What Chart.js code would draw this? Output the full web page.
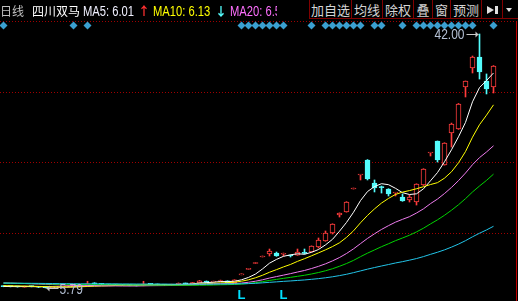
<!DOCTYPE html>
<html>
<head>
<meta charset="utf-8">
<script src="https://cdn.jsdelivr.net/npm/chart.js@4.4.1/dist/chart.umd.min.js"></script>
<style>
    html, body { margin: 0; padding: 0; background: #000; overflow: hidden; }
    #wrap { position: relative; width: 518px; height: 301px; background: #000; }
    #kline { position: absolute; left: 0; top: 0; }
    #info { position: absolute; left: 0; top: 0; width: 277px; height: 20px; overflow: hidden; }
    .t { position: absolute; top: 1px; height: 20px; line-height: 20px; white-space: nowrap; }
    .cn { font-family: "Noto Sans CJK SC", sans-serif; font-size: 12px; }
    .num { font-family: "Liberation Sans", sans-serif; font-size: 14px; transform: scaleX(0.8); transform-origin: 0 0; }
    .btn { position: absolute; top: 0; height: 19px; box-sizing: border-box; border-left: 1px solid #800000;
           border-bottom: 1px solid #800000; color: #d4d4d4; text-align: center; line-height: 19px;
           font-family: "Noto Sans CJK SC", sans-serif; font-size: 13px; background: #000; }
</style>
</head>
<body>
<div id="wrap">
    <canvas id="kline" width="518" height="301"></canvas>
    <div id="info">
        <span class="t cn" style="left:0;color:#c0c0c0">日线</span>
        <span class="t cn" style="left:32px;color:#fff">四川双马</span>
        <span class="t num" style="left:83px;color:#f0f0ff">MA5: 6.01</span>
        <span class="t cn" style="left:138px;color:#ff3030;font-weight:bold">↑</span>
        <span class="t num" style="left:153px;color:#ffff00">MA10: 6.13</span>
        <span class="t cn" style="left:215px;color:#55ffff;font-weight:bold">↓</span>
        <span class="t num" style="left:230px;color:#ff70ff">MA20: 6.52</span>
    </div>
    <div class="btn" style="left:309px;width:42px">加自选</div>
    <div class="btn" style="left:351px;width:31px">均线</div>
    <div class="btn" style="left:382px;width:31px">除权</div>
    <div class="btn" style="left:413px;width:19px">叠</div>
    <div class="btn" style="left:432px;width:18px">窗</div>
    <div class="btn" style="left:450px;width:31px">预测</div>
    <div class="btn" style="left:481px;width:21px">
        <div style="position:absolute;left:5px;top:6px;width:0;height:0;border-top:4px solid transparent;border-bottom:4px solid transparent;border-left:7px solid #e0e0e0"></div>
        <div style="position:absolute;left:13px;top:6px;width:3px;height:8px;background:#e0e0e0"></div>
    </div>
    <div class="btn" style="left:502px;width:16px">
        <div style="position:absolute;left:3px;top:8px;width:0;height:0;border-left:3px solid transparent;border-right:3px solid transparent;border-top:4px solid #e0e0e0"></div>
    </div>
</div>

<script>
// 日K 数据 (index 0 = 最左一根)
const OPEN = [6.10, 6.00, 5.98, 5.92, 6.05, 5.98, 5.90, 5.85, 5.88, 5.95,
    6.00, 6.02, 6.08, 6.45, 6.38, 6.30, 6.25, 6.22, 6.18, 6.15,
    6.12, 6.35, 6.30, 6.26, 6.22, 6.28, 6.45, 6.40, 6.55, 6.78,
    6.62, 6.72, 6.80, 6.55, 7.67, 8.44, 9.28, 10.21, 10.64, 10.78,
    10.60, 10.49, 10.49, 10.78, 10.92, 11.64, 12.49, 13.63, 16.20, 16.62,
    19.90, 21.90, 24.04, 20.76, 20.19, 19.90, 19.33, 18.76, 18.33, 18.05,
    20.47, 25.04, 26.75, 23.32, 27.89, 28.46, 34.44, 37.15, 38.72, 35.30, 34.44];
const CLOSE = [6.00, 5.98, 5.95, 6.05, 5.98, 5.90, 5.85, 5.88, 5.95, 6.00,
    6.02, 6.08, 6.40, 6.38, 6.30, 6.25, 6.22, 6.18, 6.15, 6.12,
    6.35, 6.30, 6.26, 6.22, 6.28, 6.45, 6.40, 6.55, 6.80, 6.62,
    6.75, 6.85, 6.55, 6.97, 7.67, 8.44, 9.28, 10.21, 11.07, 10.35,
    10.64, 10.35, 10.92, 10.72, 11.78, 12.63, 13.63, 14.91, 16.48, 18.05,
    19.90, 21.92, 21.33, 20.05, 20.10, 19.19, 19.35, 18.19, 18.76, 20.62,
    22.75, 25.06, 24.04, 26.46, 29.17, 32.02, 35.30, 38.72, 36.58, 34.16, 37.44];
const HIGH = [6.12, 6.03, 6.00, 6.08, 6.07, 5.99, 5.92, 5.93, 5.97, 6.02,
    6.05, 6.10, 6.75, 6.55, 6.40, 6.32, 6.28, 6.25, 6.20, 6.18,
    6.75, 6.38, 6.33, 6.30, 6.32, 6.52, 6.48, 6.58, 6.88, 6.80,
    6.78, 6.92, 6.82, 6.97, 7.67, 8.44, 9.28, 10.21, 11.35, 10.92,
    10.78, 10.50, 11.35, 11.35, 11.80, 12.92, 13.92, 14.95, 16.50, 18.10,
    19.90, 21.95, 24.10, 21.19, 20.33, 19.95, 19.37, 19.19, 19.05, 20.65,
    22.80, 25.08, 26.75, 26.50, 29.30, 32.10, 35.30, 38.86, 42.00, 36.30, 37.50];
const LOW = [5.97, 5.95, 5.92, 5.90, 5.95, 5.86, 5.79, 5.82, 5.86, 5.93,
    5.97, 6.00, 6.05, 6.32, 6.25, 6.20, 6.18, 6.15, 6.10, 6.08,
    6.10, 6.25, 6.22, 6.18, 6.20, 6.25, 6.36, 6.38, 6.50, 6.58,
    6.60, 6.68, 6.50, 6.52, 7.67, 8.44, 9.28, 10.21, 10.35, 10.30,
    10.35, 10.21, 10.45, 10.64, 10.90, 11.49, 12.45, 13.49, 15.91, 16.60,
    19.90, 21.19, 21.19, 19.48, 19.33, 18.91, 18.91, 18.15, 18.05, 17.62,
    20.40, 24.61, 23.75, 23.30, 25.89, 28.40, 33.02, 36.44, 35.58, 33.45, 33.59];

// 均线
const MA5 = [6.01, 6.00, 5.99, 6.00, 5.99, 5.97, 5.95, 5.93, 5.91, 5.92,
    5.94, 5.99, 6.09, 6.18, 6.24, 6.28, 6.31, 6.27, 6.22, 6.18,
    6.20, 6.22, 6.24, 6.25, 6.28, 6.30, 6.32, 6.38, 6.50, 6.56,
    6.62, 6.71, 6.71, 6.75, 6.96, 7.30, 7.78, 8.51, 9.33, 9.87,
    10.31, 10.52, 10.67, 10.60, 10.88, 11.28, 11.94, 12.73, 13.89, 15.14,
    16.59, 18.25, 19.54, 20.25, 20.66, 20.52, 20.00, 19.38, 19.12, 19.22,
    19.93, 21.08, 22.25, 23.79, 25.50, 27.35, 29.40, 32.33, 34.36, 35.36, 36.44];
const MA10 = [6.13, 6.11, 6.09, 6.07, 6.05, 6.02, 5.99, 5.97, 5.96, 5.95,
    5.96, 5.97, 6.01, 6.04, 6.08, 6.11, 6.15, 6.18, 6.20, 6.21,
    6.24, 6.27, 6.25, 6.24, 6.23, 6.25, 6.27, 6.31, 6.37, 6.42,
    6.46, 6.52, 6.55, 6.62, 6.76, 6.96, 7.25, 7.61, 8.04, 8.41,
    8.80, 9.15, 9.59, 9.97, 10.38, 10.80, 11.23, 11.70, 12.24, 13.01,
    13.94, 15.09, 16.14, 17.07, 17.90, 18.56, 19.13, 19.46, 19.68, 19.94,
    20.23, 20.54, 20.81, 21.45, 22.36, 23.64, 25.24, 27.29, 29.07, 30.43, 31.90];
const MA20 = [6.52, 6.49, 6.46, 6.43, 6.40, 6.36, 6.32, 6.28, 6.24, 6.20,
    6.16, 6.13, 6.12, 6.11, 6.10, 6.09, 6.09, 6.08, 6.08, 6.08,
    6.10, 6.12, 6.13, 6.14, 6.15, 6.18, 6.21, 6.24, 6.29, 6.32,
    6.35, 6.39, 6.40, 6.43, 6.50, 6.61, 6.76, 6.96, 7.21, 7.42,
    7.63, 7.84, 8.07, 8.29, 8.57, 8.88, 9.24, 9.66, 10.14, 10.71,
    11.37, 12.12, 12.86, 13.52, 14.14, 14.68, 15.18, 15.58, 15.96, 16.48,
    17.08, 17.82, 18.47, 19.26, 20.13, 21.10, 22.18, 23.37, 24.38, 25.18, 26.06];
const MA30 = [6.48, 6.47, 6.45, 6.43, 6.42, 6.40, 6.37, 6.35, 6.33, 6.32,
    6.30, 6.29, 6.28, 6.28, 6.27, 6.27, 6.26, 6.25, 6.23, 6.22,
    6.22, 6.21, 6.20, 6.19, 6.19, 6.18, 6.18, 6.18, 6.19, 6.20,
    6.22, 6.25, 6.27, 6.30, 6.36, 6.44, 6.56, 6.70, 6.87, 7.02,
    7.17, 7.31, 7.46, 7.61, 7.79, 8.00, 8.25, 8.54, 8.89, 9.28,
    9.73, 10.26, 10.76, 11.22, 11.68, 12.10, 12.54, 12.92, 13.32, 13.79,
    14.32, 14.93, 15.51, 16.16, 16.88, 17.66, 18.53, 19.48, 20.33, 21.13, 22.02];
const MA60 = [6.49, 6.48, 6.47, 6.47, 6.46, 6.45, 6.44, 6.43, 6.42, 6.41,
    6.40, 6.39, 6.39, 6.39, 6.39, 6.38, 6.38, 6.37, 6.37, 6.36,
    6.36, 6.35, 6.35, 6.35, 6.34, 6.34, 6.34, 6.34, 6.35, 6.35,
    6.35, 6.36, 6.36, 6.37, 6.39, 6.42, 6.46, 6.53, 6.60, 6.67,
    6.74, 6.80, 6.87, 6.94, 7.03, 7.13, 7.25, 7.39, 7.56, 7.75,
    7.98, 8.23, 8.48, 8.71, 8.93, 9.14, 9.36, 9.55, 9.76, 9.99,
    10.27, 10.59, 10.89, 11.23, 11.62, 12.05, 12.54, 13.09, 13.60, 14.07, 14.59];

// 信息地雷 / L 标记所在的K线序号
const MINE_DAYS = [0, 10, 12, 34, 35, 36, 37, 38, 39, 40, 44, 46, 47, 48, 49, 50, 51,
    53, 54, 57, 59, 60, 61, 62, 63, 64, 65, 66, 67, 70];
const L_DAYS = [34, 40];

// 纵轴范围与虚线网格
const PRICE_TOP = 43.85;
const PRICE_BOTTOM = 3.94;
const GRID_PRICES = [43.85, 33.77, 23.69, 13.61];

const RED = '#ff3c3c';
const CYAN = '#54fcfc';

const idx = CLOSE.map((c, i) => i);
const isUp = i => CLOSE[i] >= OPEN[i];

function narrowText(ctx, text, px, py, align) {
    // 窄体数字: 水平压缩
    const w = ctx.measureText(text).width * 0.8;
    const left = align === 'right' ? px - w : px;
    ctx.save();
    ctx.translate(left, py);
    ctx.scale(0.8, 1);
    ctx.textAlign = 'left';
    ctx.fillText(text, 0, 0);
    ctx.restore();
}

const decor = {
    id: 'decor',
    beforeDatasetsDraw(chart) {
        const { ctx, chartArea: a, scales: { y } } = chart;
        ctx.save();
        ctx.strokeStyle = '#a00000';
        ctx.lineWidth = 1;
        ctx.setLineDash([1, 2]);
        GRID_PRICES.forEach(v => {
            const py = Math.round(y.getPixelForValue(v)) + 0.5;
            ctx.beginPath();
            ctx.moveTo(a.left, py);
            ctx.lineTo(516, py);
            ctx.stroke();
        });
        ctx.restore();
    },
    afterDatasetsDraw(chart) {
        const { ctx, chartArea: a, scales: { x, y } } = chart;
        ctx.save();

        // 信息地雷
        ctx.fillStyle = '#3a9fd0';
        MINE_DAYS.forEach(i => {
            const cx = x.getPixelForValue(i), cy = a.top + 4.5;
            ctx.beginPath();
            ctx.moveTo(cx, cy - 4);
            ctx.lineTo(cx + 4, cy);
            ctx.lineTo(cx, cy + 4);
            ctx.lineTo(cx - 4, cy);
            ctx.closePath();
            ctx.fill();
        });

        // 最高价 / 最低价标注
        const hi = Math.max(...HIGH), lo = Math.min(...LOW);
        const hiX = x.getPixelForValue(HIGH.indexOf(hi)), hiY = Math.round(y.getPixelForValue(hi)) + 0.5;
        const loX = x.getPixelForValue(LOW.indexOf(lo)), loY = Math.round(y.getPixelForValue(lo)) + 0.5;
        ctx.strokeStyle = '#c8c8c8';
        ctx.fillStyle = '#c8c8c8';
        ctx.lineWidth = 1;
        ctx.beginPath(); ctx.moveTo(hiX - 13, hiY); ctx.lineTo(hiX - 1, hiY); ctx.stroke();
        ctx.beginPath(); ctx.moveTo(hiX - 1, hiY); ctx.lineTo(hiX - 4, hiY - 3); ctx.lineTo(hiX - 4, hiY + 3); ctx.fill();
        ctx.beginPath(); ctx.moveTo(loX + 1, loY); ctx.lineTo(loX + 13, loY); ctx.stroke();
        ctx.beginPath(); ctx.moveTo(loX + 1, loY); ctx.lineTo(loX + 4, loY - 3); ctx.lineTo(loX + 4, loY + 3); ctx.fill();

        ctx.font = '15px "Liberation Sans", sans-serif';
        ctx.fillStyle = '#b4c0d4';
        ctx.textBaseline = 'middle';
        narrowText(ctx, hi.toFixed(2), hiX - 15, hiY, 'right');
        narrowText(ctx, lo.toFixed(2), loX + 14, loY + 1, 'left');

        // L 标记
        ctx.fillStyle = '#00e0ff';
        ctx.font = 'bold 13px "Liberation Sans", sans-serif';
        ctx.textAlign = 'center';
        ctx.textBaseline = 'alphabetic';
        L_DAYS.forEach(i => ctx.fillText('L', x.getPixelForValue(i), a.bottom - 2));

        // 右侧边框
        ctx.strokeStyle = '#c00000';
        ctx.beginPath(); ctx.moveTo(516.5, a.top); ctx.lineTo(516.5, a.bottom); ctx.stroke();
        ctx.restore();
    }
};

function maLine(data, color) {
    return {
        type: 'line',
        data: data.map((v, i) => ({ x: i, y: v })),
        borderColor: color,
        borderWidth: 1,
        pointRadius: 0,
        tension: 0,
        order: 0
    };
}

new Chart(document.getElementById('kline'), {
    type: 'bar',
    data: {
        datasets: [
            maLine(MA60, '#22c4e8'),
            maLine(MA30, '#00d400'),
            maLine(MA20, '#ee7cee'),
            maLine(MA10, '#ffff00'),
            maLine(MA5, '#ffffff'),
            {
                // 实体
                data: idx.map(i => ({ x: i, y: [OPEN[i], CLOSE[i]] })),
                backgroundColor: idx.map(i => isUp(i) ? '#000' : CYAN),
                borderColor: idx.map(i => isUp(i) ? RED : CYAN),
                borderWidth: 1,
                borderSkipped: false,
                barThickness: 5,
                minBarLength: 1,
                grouped: false,
                order: 1
            },
            {
                // 影线
                data: idx.map(i => ({ x: i, y: [LOW[i], HIGH[i]] })),
                backgroundColor: idx.map(i => isUp(i) ? RED : CYAN),
                borderWidth: 0,
                barThickness: 1,
                minBarLength: 1,
                grouped: false,
                order: 2
            }
        ]
    },
    options: {
        responsive: false,
        animation: false,
        devicePixelRatio: 1,
        layout: { padding: { top: 21, left: 0, right: 0, bottom: 0 } },
        plugins: { legend: { display: false }, tooltip: { enabled: false } },
        scales: {
            x: { type: 'linear', display: false, offset: false, min: -0.5, max: 73.5 },
            y: { display: false, min: PRICE_BOTTOM, max: PRICE_TOP }
        }
    },
    plugins: [decor]
});
</script>
</body>
</html>
